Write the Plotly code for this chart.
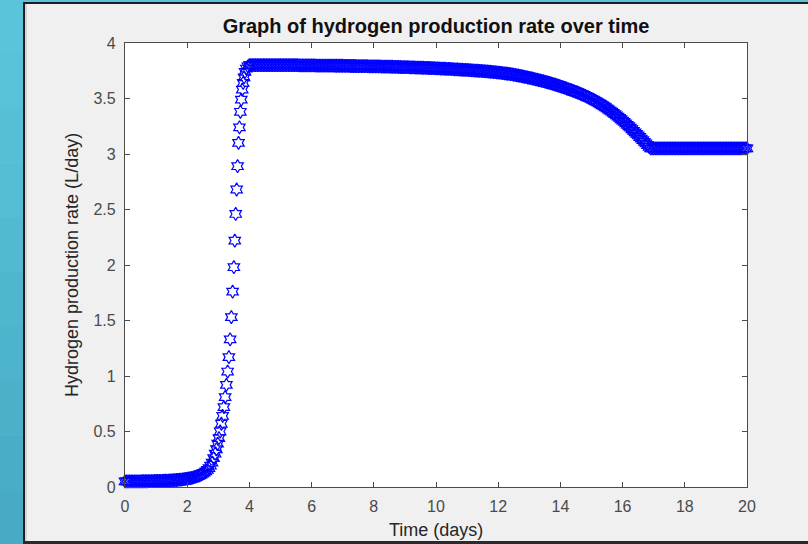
import plotly.graph_objects as go

# ---------------- data ----------------
time_days = [
    0.0, 0.05, 0.1, 0.15, 0.2, 0.25, 0.3, 0.35, 0.4, 0.45, 0.5, 0.55, 0.6, 0.65, 0.7, 0.75, 0.8, 0.85, 0.9, 0.95,
    1.0, 1.05, 1.1, 1.15, 1.2, 1.25, 1.3, 1.35, 1.4, 1.45, 1.5, 1.55, 1.6, 1.65, 1.7, 1.75, 1.8, 1.85, 1.9, 1.95,
    2.0, 2.05, 2.1, 2.15, 2.2, 2.25, 2.3, 2.35, 2.4, 2.45, 2.5, 2.55, 2.6, 2.65, 2.7, 2.75, 2.8,
    2.85, 2.90, 2.94, 2.98, 3.02, 3.06, 3.10, 3.14, 3.18, 3.22,
    3.26, 3.30, 3.34, 3.38, 3.42, 3.46, 3.50, 3.53, 3.56, 3.59,
    3.62, 3.65, 3.68, 3.71, 3.74, 3.77, 3.80, 3.83, 3.86, 3.90, 3.95,
    4.0, 4.05, 4.1, 4.15, 4.2, 4.25, 4.3, 4.35, 4.4, 4.45, 4.5, 4.55, 4.6, 4.65, 4.7, 4.75, 4.8, 4.85, 4.9, 4.95,
    5.0, 5.05, 5.1, 5.15, 5.2, 5.25, 5.3, 5.35, 5.4, 5.45, 5.5, 5.55, 5.6, 5.65, 5.7, 5.75, 5.8, 5.85, 5.9, 5.95,
    6.0, 6.05, 6.1, 6.15, 6.2, 6.25, 6.3, 6.35, 6.4, 6.45, 6.5, 6.55, 6.6, 6.65, 6.7, 6.75, 6.8, 6.85, 6.9, 6.95,
    7.0, 7.05, 7.1, 7.15, 7.2, 7.25, 7.3, 7.35, 7.4, 7.45, 7.5, 7.55, 7.6, 7.65, 7.7, 7.75, 7.8, 7.85, 7.9, 7.95,
    8.0, 8.05, 8.1, 8.15, 8.2, 8.25, 8.3, 8.35, 8.4, 8.45, 8.5, 8.55, 8.6, 8.65, 8.7, 8.75, 8.8, 8.85, 8.9, 8.95,
    9.0, 9.05, 9.1, 9.15, 9.2, 9.25, 9.3, 9.35, 9.4, 9.45, 9.5, 9.55, 9.6, 9.65, 9.7, 9.75, 9.8, 9.85, 9.9, 9.95,
    10.0, 10.05, 10.1, 10.15, 10.2, 10.25, 10.3, 10.35, 10.4, 10.45, 10.5, 10.55, 10.6, 10.65, 10.7, 10.75, 10.8, 10.85, 10.9, 10.95,
    11.0, 11.05, 11.1, 11.15, 11.2, 11.25, 11.3, 11.35, 11.4, 11.45, 11.5, 11.55, 11.6, 11.65, 11.7, 11.75, 11.8, 11.85, 11.9, 11.95,
    12.0, 12.05, 12.1, 12.15, 12.2, 12.25, 12.3, 12.35, 12.4, 12.45, 12.5, 12.55, 12.6, 12.65, 12.7, 12.75, 12.8, 12.85, 12.9, 12.95,
    13.0, 13.05, 13.1, 13.15, 13.2, 13.25, 13.3, 13.35, 13.4, 13.45, 13.5, 13.55, 13.6, 13.65, 13.7, 13.75, 13.8, 13.85, 13.9, 13.95,
    14.0, 14.05, 14.1, 14.15, 14.2, 14.25, 14.3, 14.35, 14.4, 14.45, 14.5, 14.55, 14.6, 14.65, 14.7, 14.75, 14.8, 14.85, 14.9, 14.95,
    15.0, 15.05, 15.1, 15.15, 15.2, 15.25, 15.3, 15.35, 15.4, 15.45, 15.5, 15.55, 15.6, 15.65, 15.7, 15.75, 15.8, 15.85, 15.9, 15.95,
    16.0, 16.05, 16.1, 16.15, 16.2, 16.25, 16.3, 16.35, 16.4, 16.45, 16.5, 16.55, 16.6, 16.65, 16.7, 16.75, 16.8, 16.85, 16.9, 16.95,
    17.0, 17.05, 17.1, 17.15, 17.2, 17.25, 17.3, 17.35, 17.4, 17.45, 17.5, 17.55, 17.6, 17.65, 17.7, 17.75, 17.8, 17.85, 17.9, 17.95,
    18.0, 18.05, 18.1, 18.15, 18.2, 18.25, 18.3, 18.35, 18.4, 18.45, 18.5, 18.55, 18.6, 18.65, 18.7, 18.75, 18.8, 18.85, 18.9, 18.95,
    19.0, 19.05, 19.1, 19.15, 19.2, 19.25, 19.3, 19.35, 19.4, 19.45, 19.5, 19.55, 19.6, 19.65, 19.7, 19.75, 19.8, 19.85, 19.9, 19.95,
    20.0,
]

h2_rate = [
    0.050, 0.050, 0.050, 0.050, 0.050, 0.050, 0.051, 0.051, 0.051, 0.051, 0.051, 0.052, 0.052, 0.052, 0.052, 0.053, 0.053, 0.053, 0.053, 0.054,
    0.054, 0.055, 0.055, 0.056, 0.056, 0.057, 0.057, 0.058, 0.058, 0.059, 0.060, 0.061, 0.062, 0.063, 0.064, 0.066, 0.067, 0.069, 0.071, 0.073,
    0.075, 0.078, 0.080, 0.083, 0.087, 0.091, 0.095, 0.100, 0.105, 0.112, 0.120, 0.129, 0.140, 0.154, 0.170, 0.192, 0.220,
    0.26, 0.30, 0.34, 0.39, 0.44, 0.50, 0.57, 0.64, 0.72, 0.81,
    0.92, 1.04, 1.17, 1.33, 1.53, 1.76, 1.98, 2.22, 2.46, 2.68,
    2.89, 3.10, 3.24, 3.38, 3.49, 3.58, 3.64, 3.69, 3.74, 3.77, 3.79,
    3.800, 3.800, 3.800, 3.800, 3.800, 3.800, 3.800, 3.800, 3.800, 3.800, 3.800, 3.800, 3.800, 3.800, 3.800, 3.800, 3.800, 3.800, 3.800, 3.800,
    3.800, 3.800, 3.800, 3.800, 3.800, 3.800, 3.800, 3.800, 3.800, 3.800, 3.800, 3.800, 3.799, 3.799, 3.799, 3.799, 3.799, 3.798, 3.798, 3.798,
    3.798, 3.798, 3.798, 3.797, 3.797, 3.797, 3.797, 3.797, 3.797, 3.796, 3.796, 3.796, 3.796, 3.796, 3.796, 3.795, 3.795, 3.795, 3.795, 3.795,
    3.795, 3.794, 3.794, 3.794, 3.794, 3.793, 3.793, 3.793, 3.793, 3.792, 3.792, 3.792, 3.792, 3.791, 3.791, 3.791, 3.791, 3.790, 3.790, 3.790,
    3.790, 3.790, 3.789, 3.789, 3.789, 3.788, 3.788, 3.788, 3.787, 3.787, 3.787, 3.786, 3.786, 3.785, 3.785, 3.785, 3.784, 3.784, 3.783, 3.783,
    3.783, 3.782, 3.782, 3.781, 3.781, 3.780, 3.780, 3.779, 3.779, 3.778, 3.778, 3.777, 3.777, 3.776, 3.776, 3.775, 3.775, 3.774, 3.774, 3.773,
    3.772, 3.772, 3.771, 3.770, 3.770, 3.769, 3.768, 3.767, 3.767, 3.766, 3.765, 3.764, 3.763, 3.762, 3.762, 3.761, 3.760, 3.759, 3.758, 3.757,
    3.757, 3.756, 3.755, 3.754, 3.753, 3.752, 3.751, 3.750, 3.749, 3.748, 3.747, 3.746, 3.745, 3.744, 3.742, 3.741, 3.740, 3.738, 3.737, 3.736,
    3.734, 3.733, 3.731, 3.729, 3.727, 3.725, 3.723, 3.721, 3.719, 3.717, 3.714, 3.712, 3.709, 3.707, 3.704, 3.701, 3.698, 3.695, 3.692, 3.689,
    3.686, 3.683, 3.680, 3.677, 3.673, 3.670, 3.666, 3.663, 3.659, 3.656, 3.652, 3.648, 3.644, 3.640, 3.636, 3.632, 3.628, 3.624, 3.619, 3.615,
    3.610, 3.605, 3.600, 3.595, 3.590, 3.585, 3.580, 3.575, 3.570, 3.565, 3.559, 3.554, 3.548, 3.542, 3.536, 3.530, 3.523, 3.517, 3.510, 3.503,
    3.496, 3.489, 3.481, 3.473, 3.465, 3.457, 3.448, 3.439, 3.430, 3.421, 3.411, 3.401, 3.391, 3.381, 3.370, 3.359, 3.348, 3.337, 3.325, 3.313,
    3.301, 3.289, 3.276, 3.263, 3.250, 3.237, 3.223, 3.209, 3.195, 3.181, 3.167, 3.153, 3.139, 3.125, 3.110, 3.095, 3.080, 3.065, 3.050, 3.050,
    3.050, 3.050, 3.050, 3.050, 3.050, 3.050, 3.050, 3.050, 3.050, 3.050, 3.050, 3.050, 3.050, 3.050, 3.050, 3.050, 3.050, 3.050, 3.050, 3.050,
    3.050, 3.050, 3.050, 3.050, 3.050, 3.050, 3.050, 3.050, 3.050, 3.050, 3.050, 3.050, 3.050, 3.050, 3.050, 3.050, 3.050, 3.050, 3.050, 3.050,
    3.050, 3.050, 3.050, 3.050, 3.050, 3.050, 3.050, 3.050, 3.050, 3.050, 3.050, 3.050, 3.050, 3.050, 3.050, 3.050, 3.050, 3.050, 3.050, 3.050,
    3.050,
]

assert len(time_days) == len(h2_rate), (len(time_days), len(h2_rate))

x_ticks = [0, 2, 4, 6, 8, 10, 12, 14, 16, 18, 20]
y_ticks = [0, 0.5, 1, 1.5, 2, 2.5, 3, 3.5, 4]
y_tick_labels = ["0", "0.5", "1", "1.5", "2", "2.5", "3", "3.5", "4"]

title_text = "Graph of hydrogen production rate over time"
x_title = "Time (days)"
y_title = "Hydrogen production rate (L/day)"

# ---------------- layout geometry ----------------
W_PX, H_PX = 808, 544
L, R, T, B = 125, 747, 43, 487
PW, PH = R - L, B - T


def fx(px):
    return (px - L) / PW


def fy(py):
    return (B - py) / PH


FONT = "Liberation Sans, Arial, Helvetica, sans-serif"
AX_COLOR = "#4a4a4a"

fig = go.Figure()
fig.add_trace(go.Scatter(
    x=time_days, y=h2_rate, mode="markers",
    marker=dict(symbol="hexagram-open", size=10, color="#0000ff",
                line=dict(color="#0000ff", width=1.2)),
    cliponaxis=False, showlegend=False,
))

# teal backdrop (slight vertical gradient built from bands)
teal_bands = ["#5ac5da", "#58c2d8", "#56bfd6", "#54bcd3", "#52b9d1",
              "#50b6ce", "#4eb3cc", "#4cb0c9", "#4aadc7", "#48aac4"]
shapes = []
nb = len(teal_bands)
for i, c in enumerate(teal_bands):
    y_top = i * H_PX / nb
    y_bot = (i + 1) * H_PX / nb
    shapes.append(dict(type="rect", xref="paper", yref="paper", x0=fx(0), x1=fx(23),
                       y0=fy(y_bot + 0.5), y1=fy(y_top), fillcolor=c, line_width=0, layer="below"))

shapes += [
    dict(type="rect", xref="paper", yref="paper", x0=fx(0), x1=fx(W_PX), y0=fy(2), y1=fy(0),
         fillcolor="#5ac5da", line_width=0, layer="below"),
    # dark window border lines
    dict(type="rect", xref="paper", yref="paper", x0=fx(23), x1=fx(25), y0=fy(H_PX), y1=fy(2),
         fillcolor="#1e1e1e", line_width=0, layer="below"),
    dict(type="rect", xref="paper", yref="paper", x0=fx(23), x1=fx(W_PX), y0=fy(4), y1=fy(2),
         fillcolor="#1e1e1e", line_width=0, layer="below"),
    dict(type="rect", xref="paper", yref="paper", x0=fx(23), x1=fx(W_PX), y0=fy(H_PX), y1=fy(541),
         fillcolor="#2a2a2a", line_width=0, layer="below"),
    dict(type="rect", xref="paper", yref="paper", x0=fx(25), x1=fx(27), y0=fy(541), y1=fy(4),
         fillcolor="#d6d6d6", line_width=0, layer="below"),
]

annotations = [
    dict(text=x_title, xref="paper", yref="paper", x=0.5, y=fy(530), xanchor="center",
         yanchor="middle", showarrow=False, font=dict(family=FONT, size=18, color="#262626")),
    dict(text=y_title, xref="paper", yref="paper", x=fx(72), y=0.5, xanchor="center",
         yanchor="middle", textangle=-90, showarrow=False,
         font=dict(family=FONT, size=18, color="#262626")),
]

fig.update_layout(
    width=W_PX, height=H_PX,
    margin=dict(l=L, r=W_PX - R, t=T, b=H_PX - B, pad=0, autoexpand=False),
    paper_bgcolor="#f0f0f0", plot_bgcolor="#ffffff",
    font=dict(family=FONT, color=AX_COLOR, size=16),
    title=dict(text="<b>" + title_text + "</b>", x=(L + R) / 2 / W_PX, xanchor="center",
               y=1 - 26 / H_PX, yanchor="middle",
               font=dict(family=FONT, size=20, color="#111111")),
    shapes=shapes,
    annotations=annotations,
    xaxis=dict(range=[0, 20], tickvals=x_ticks, ticks="inside", ticklen=5, tickwidth=1,
               tickcolor=AX_COLOR, showline=True, linecolor=AX_COLOR, linewidth=1.2,
               mirror="ticks", showgrid=False, zeroline=False, ticklabelstandoff=5,
               automargin=False,
               tickfont=dict(family=FONT, size=16, color=AX_COLOR)),
    yaxis=dict(range=[0, 4], tickvals=y_ticks, ticktext=y_tick_labels, ticks="inside",
               ticklen=5, tickwidth=1, tickcolor=AX_COLOR, showline=True, linecolor=AX_COLOR,
               linewidth=1.2, mirror="ticks", showgrid=False, zeroline=False,
               ticklabelstandoff=5, automargin=False,
               tickfont=dict(family=FONT, size=16, color=AX_COLOR)),
)

fig.write_html("out.html")
